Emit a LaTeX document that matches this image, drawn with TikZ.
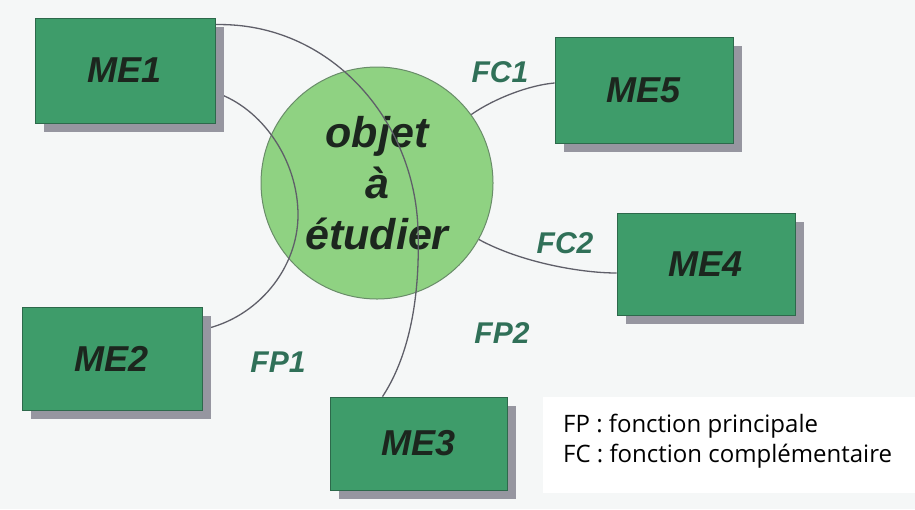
\documentclass[tikz,border=0pt]{standalone}
\usepackage{fontspec}
\setmainfont{Liberation Sans}
\newfontfamily\legendfont{Open Sans}
\usetikzlibrary{shadows,backgrounds}
\definecolor{bgcol}{RGB}{245,247,247}
\definecolor{boxfill}{RGB}{62,156,106}
\definecolor{boxdraw}{RGB}{45,105,75}
\definecolor{shadowcol}{RGB}{150,150,160}
\definecolor{circfill}{RGB}{143,210,130}
\definecolor{circdraw}{RGB}{105,140,105}
\definecolor{lblcol}{RGB}{48,112,88}
\definecolor{txtcol}{RGB}{28,38,30}
\definecolor{linecol}{RGB}{95,95,105}
\begin{document}
\begin{tikzpicture}[x=1pt,y=-1pt,
  mebox/.style={draw=boxdraw,line width=0.8pt,fill=boxfill,rectangle,inner sep=0pt,
    text=txtcol,font=\fontsize{36}{40}\selectfont\bfseries\itshape,
    drop shadow={shadow xshift=9pt,shadow yshift=-9pt,fill=shadowcol,opacity=1}},
  flabel/.style={text=lblcol,font=\fontsize{30}{34}\selectfont\bfseries\itshape,inner sep=0pt},
  conn/.style={draw=linecol,line width=1.3pt}]
\useasboundingbox (0,0) rectangle (915,509);
% boxes
\node[mebox,minimum width=180pt,minimum height=105pt] (me1) at (125,70.5) {ME1};
\node[mebox,minimum width=178pt,minimum height=106pt] (me5) at (644,90) {ME5};
\node[mebox,minimum width=178pt,minimum height=102pt] (me4) at (706,264) {ME4};
\node[mebox,minimum width=180pt,minimum height=103pt] (me2) at (112,358.5) {ME2};
\node[mebox,minimum width=177pt,minimum height=93pt] (me3) at (418.5,443.5) {ME3};
% labels
\node[flabel] (fc1) at (500,72) {FC1};
\node[flabel] (fc2) at (565,243) {FC2};
\node[flabel] (fp1) at (278,362) {FP1};
\node[flabel] (fp2) at (502,333) {FP2};
% legend
\node[fill=white,minimum width=372pt,minimum height=96pt,inner sep=0pt] (legbg) at (729,445) {};
\node[anchor=west,align=left,inner sep=0pt,font=\legendfont\fontsize{24}{30}\selectfont,text=black] (leg) at (563,441)
  {FP : fonction principale\\FC : fonction complémentaire};
\begin{pgfonlayer}{background}
  \fill[bgcol] (0,0) rectangle (915,509);
  \node[circle,draw=circdraw,line width=1pt,fill=circfill,minimum size=232pt,inner sep=0pt,
    align=center,text=txtcol,font=\fontsize{43}{51}\selectfont\bfseries\itshape] (obj) at (377,183)
    {objet\\à\\étudier};
  \coordinate (m1) at (418,230);
  \coordinate (m2) at (298,215);
  % FP2 : ME1 -- ME3
  \draw[conn] ([yshift=-7pt]me1.north east) .. controls (330,22) and (415,120) .. (m1)
     .. controls (421,320) and (400,370) .. ([xshift=-36pt]me3.north);
  % FP1 : ME1 -- ME2
  \draw[conn] ([yshift=-22pt]me1.east) .. controls (262,108) and (298,160) .. (m2)
     .. controls (298,268) and (258,318) .. ([yshift=-23pt]me2.north east);
  % FC1
  \draw[conn] (obj.36) .. controls (495,98) and (530,85) .. ([yshift=7pt]me5.west);
  % FC2
  \draw[conn] (obj.-29) .. controls (520,262) and (580,273) .. ([yshift=-9pt]me4.west);
\end{pgfonlayer}
\end{tikzpicture}
\end{document}
